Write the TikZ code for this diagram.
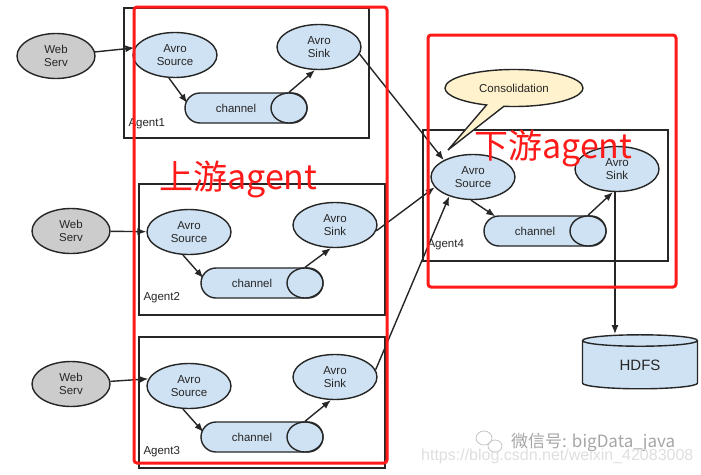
\documentclass[tikz,border=0pt]{standalone}
\usepackage{fontspec}
\setmainfont{Liberation Sans}
\newfontfamily\cjk{Noto Sans CJK SC}
\usetikzlibrary{shapes.geometric,shapes.callouts,arrows.meta,calc}
\definecolor{boxblue}{HTML}{CFE2F3}
\definecolor{webgray}{HTML}{CCCCCC}
\definecolor{calloutfill}{HTML}{FFF2CC}
\definecolor{ink}{HTML}{262626}
\definecolor{redline}{HTML}{FF1A1A}
\tikzset{
  lbl/.style={font=\fontsize{11.5}{13}\selectfont, text=ink, align=center},
  web/.style={ellipse, draw=ink, line width=1.4pt, fill=webgray, minimum width=78pt, minimum height=45pt, inner sep=0pt, lbl},
  comp/.style={ellipse, draw=ink, line width=1.4pt, fill=boxblue, minimum width=84pt, minimum height=45pt, inner sep=0pt, lbl},
  chan/.style={rectangle, rounded corners=15pt, draw=ink, line width=1.4pt, fill=boxblue, minimum width=122pt, minimum height=30pt, inner sep=0pt, lbl},
  chcap/.style={ellipse, draw=ink, line width=1.4pt, fill=boxblue, minimum width=36pt, minimum height=30pt, inner sep=0pt},
  agentbox/.style={draw=ink, line width=1.5pt},
  agentlbl/.style={lbl, anchor=west},
  redbox/.style={draw=redline, line width=3pt, rounded corners=3pt},
  redtxt/.style={text=redline, font=\cjk\fontsize{34}{36}\selectfont, inner sep=0pt},
  arr/.style={-{Latex[length=9pt,width=7pt]}, line width=1.4pt, draw=ink},
}
\begin{document}
\begin{tikzpicture}[x=1pt,y=-1pt]
\useasboundingbox (0,0) rectangle (701,474);
\fill[white] (0,0) rectangle (701,474);

% agent boxes
\draw[agentbox] (124,8) rectangle (369,138);
\draw[agentbox] (139,184) rectangle (385,315);
\draw[agentbox] (139,337) rectangle (385,468);
\draw[agentbox] (423,130) rectangle (668,261);

% Agent1
\node[web] (w1) at (56,56) {Web\\Serv};
\node[comp] (s1) at (175,55) {Avro\\Source};
\node[comp] (k1) at (319,47) {Avro\\Sink};
\node[chan] (c1) at (246,108) {};
\node[chcap, anchor=east] (p1) at (c1.east) {};
\node[lbl] (c1t) at (236,108) {channel};
\node[agentlbl] (a1) at (125,124) {Agent1};

% Agent2
\node[web] (w2) at (71,231) {Web\\Serv};
\node[comp] (s2) at (189,232) {Avro\\Source};
\node[comp] (k2) at (335,225) {Avro\\Sink};
\node[chan] (c2) at (262,283) {};
\node[chcap, anchor=east] (p2) at (c2.east) {};
\node[lbl] (c2t) at (252,283) {channel};
\node[agentlbl] (a2) at (140,298) {Agent2};

% Agent3
\node[web] (w3) at (71,384) {Web\\Serv};
\node[comp] (s3) at (189,386) {Avro\\Source};
\node[comp] (k3) at (335,377) {Avro\\Sink};
\node[chan] (c3) at (262,437) {};
\node[chcap, anchor=east] (p3) at (c3.east) {};
\node[lbl] (c3t) at (252,437) {channel};
\node[agentlbl] (a3) at (140,452) {Agent3};

% Agent4
\node[comp] (s4) at (473,177) {Avro\\Source};
\node[comp] (k4) at (617,169) {Avro\\Sink};
\node[chan] (c4) at (545,231) {};
\node[chcap, anchor=east] (p4) at (c4.east) {};
\node[lbl] (c4t) at (535,231) {channel};
\node[agentlbl] (a4) at (424,245) {Agent4};

% callout
\node[ellipse callout, draw=ink, line width=1.4pt, fill=calloutfill, minimum width=138pt, minimum height=37pt, inner sep=0pt, lbl,
      callout absolute pointer={(448,150)}] (cons) at (514,88) {Consolidation};

% HDFS
\node[cylinder, shape border rotate=90, draw=ink, line width=1.4pt, fill=boxblue, aspect=0.28,
      minimum width=115pt, minimum height=54pt, inner sep=0pt, font=\fontsize{15}{16}\selectfont, text=ink] (hdfs) at (640,365) {HDFS};

% arrows inside agents
\draw[arr] (w1) -- (s1.170);
\draw[arr] (s1.-105) -- ([xshift=3pt,yshift=5pt]c1.west);
\draw[arr] (p1.north) -- (k1.-100);

\draw[arr] (w2) -- (s2);
\draw[arr] (s2.-105) -- ([xshift=3pt,yshift=5pt]c2.west);
\draw[arr] (p2.north) -- (k2.-100);

\draw[arr] (w3) -- (s3.170);
\draw[arr] (s3.-105) -- ([xshift=3pt,yshift=5pt]c3.west);
\draw[arr] (p3.north) -- (k3.-100);

\draw[arr] (s4.-95) -- ([xshift=12pt,yshift=-1pt]c4.north west);
\draw[arr] (p4.north) -- (k4.-100);

% sinks to consolidation source
\draw[arr] (k1.-10) -- (s4.150);
\draw[arr] (k2.-8) -- (s4.195);
\draw[arr] (k3.10) -- (s4.219);

% sink4 to HDFS
\draw[arr] (k4.-95) -- (k4.-95 |- hdfs.north);

% red highlight boxes and labels
\draw[redbox] (134,7) rectangle (387,463);
\draw[redbox] (428,35) rectangle (676,287);
\node[redtxt, anchor=west] (up) at (159,179) {上游agent};
\node[redtxt, anchor=west] (down) at (474,148) {下游agent};

% watermark
\draw[gray!45, line width=0.8pt] (484,438) ellipse (8pt and 7pt);
\draw[gray!45, line width=0.8pt] (495,446) ellipse (7pt and 6pt);
\node[anchor=west, text=gray!70, font=\cjk\fontsize{17}{18}\selectfont, inner sep=0pt] (wm1) at (511,442) {微信号: bigData\_java};
\node[anchor=west, text=gray!25, font=\fontsize{16}{17}\selectfont, inner sep=0pt] (wm2) at (421,456) {https://blog.csdn.net/weixin\_42083008};
\end{tikzpicture}
\end{document}
